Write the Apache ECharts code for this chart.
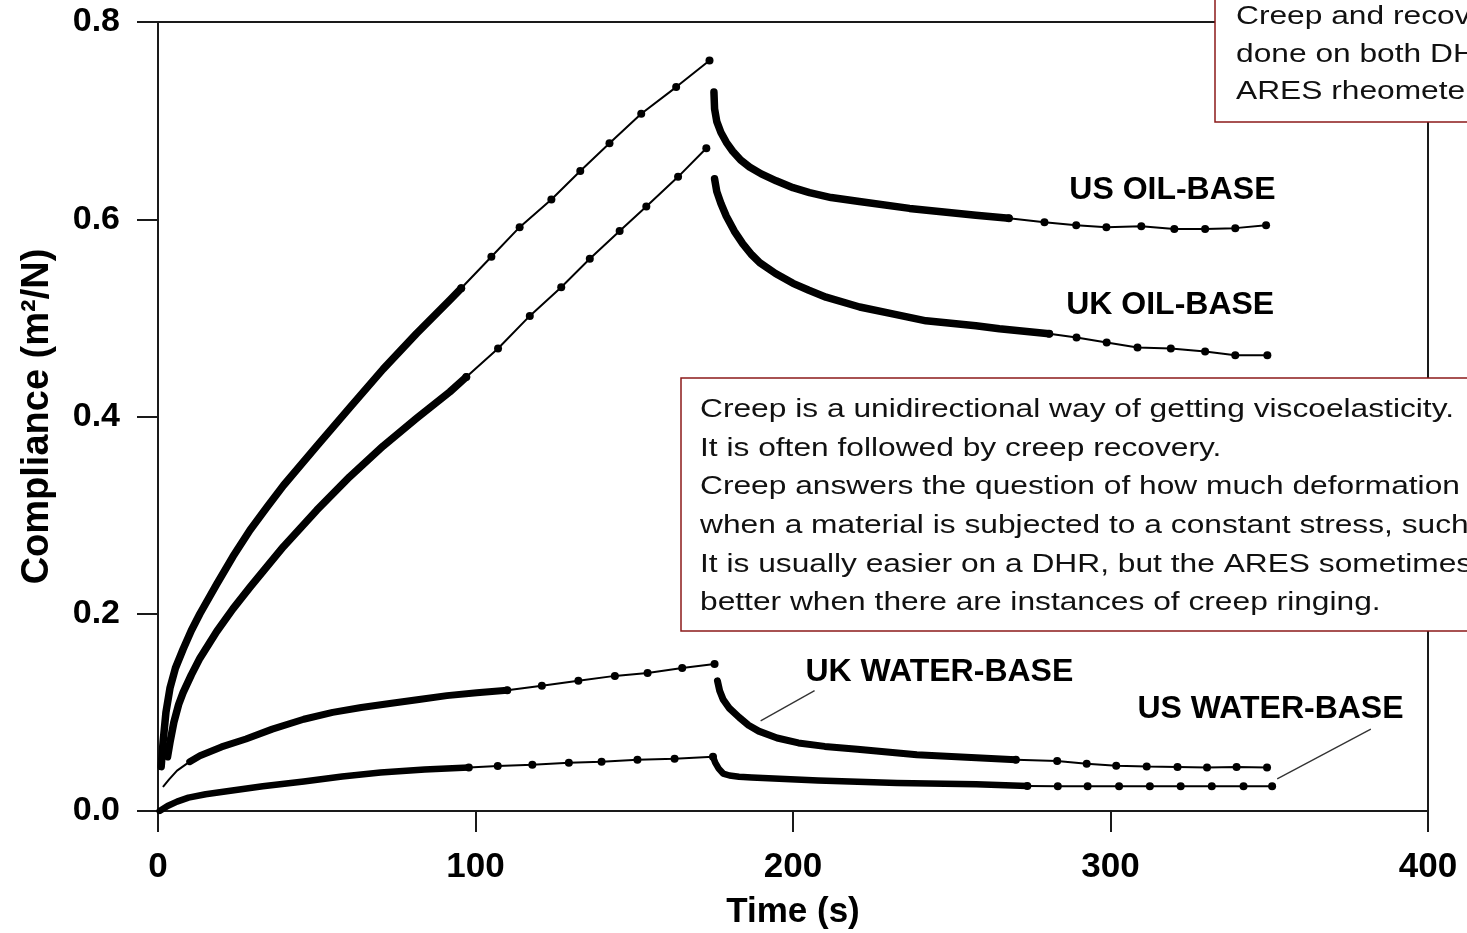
<!DOCTYPE html>
<html><head><meta charset="utf-8">
<script src="https://cdn.jsdelivr.net/npm/echarts@6/dist/echarts.min.js"></script>
<style>html,body{margin:0;padding:0;background:#fff;}#chart{width:1467px;height:933px;}</style>
</head><body><div id="chart"></div>
<script>
// ---- axis ticks ----
const xTicks = [0, 100, 200, 300, 400];
const yTicks = [0, 0.2, 0.4, 0.6, 0.8];

// ---- US OIL-BASE ----
const usOilCreepDense = [[1,0.045],[1.6,0.07],[2.5,0.1],[3.8,0.125],[5.5,0.145],[7.9,0.164],[10.5,0.183],[13.2,0.2],[18.5,0.23],[23.6,0.258],[29,0.285],[34.3,0.308],[39.5,0.33],[50,0.37],[60.4,0.409],[70.9,0.448],[81.4,0.484],[91.9,0.518],[95.5,0.530]];
const usOilCreepSparse = [[95.5,0.530],[105,0.562],[113.9,0.592],[123.9,0.620],[133,0.649],[142.2,0.677],[152.2,0.707],[163.2,0.734],[173.7,0.761]];
const usOilRecDense = [[175.1,0.729],[175.3,0.712],[176,0.699],[177.3,0.688],[179,0.678],[181,0.669],[183.5,0.660],[186.3,0.653],[190,0.646],[194.7,0.639],[200,0.632],[205.2,0.627],[212,0.622],[220.9,0.618],[236.7,0.611],[257.6,0.604],[268,0.601]];
const usOilRecSparse = [[268,0.601],[279.2,0.597],[289.2,0.594],[298.7,0.592],[309.7,0.593],[320.1,0.590],[329.8,0.590],[339.3,0.591],[349,0.594]];

// ---- UK OIL-BASE ----
const ukOilCreepDense = [[3,0.055],[3.8,0.07],[5,0.09],[6.5,0.108],[7.9,0.12],[10.5,0.138],[13.2,0.155],[18.5,0.182],[23.6,0.205],[29,0.227],[39.5,0.268],[50,0.305],[60.4,0.339],[70.9,0.37],[81.4,0.398],[91.9,0.425],[97.1,0.44]];
const ukOilCreepSparse = [[97.1,0.44],[107.1,0.469],[117.1,0.502],[127,0.531],[136,0.560],[145.4,0.588],[153.8,0.613],[163.8,0.643],[172.7,0.672]];
const ukOilRecDense = [[175.3,0.641],[176,0.628],[177.3,0.616],[179,0.603],[181.5,0.588],[184.2,0.575],[187,0.564],[189.5,0.556],[194.5,0.545],[200,0.535],[205,0.528],[210.4,0.521],[221,0.511],[231.4,0.504],[241.9,0.497],[257.6,0.492],[265,0.489],[280.7,0.484]];
const ukOilRecSparse = [[280.7,0.484],[289.3,0.480],[298.8,0.475],[308.5,0.470],[319,0.469],[329.8,0.466],[339.3,0.462],[349.4,0.462]];

// ---- UK WATER-BASE ----
const ukWaterCreepThin = [[1.7,0.025],[3.5,0.032],[6,0.041],[10,0.05]];
const ukWaterCreepDense = [[10,0.05],[13.2,0.056],[20,0.065],[27.7,0.073],[36,0.083],[45.9,0.093],[55,0.1],[64,0.105],[73,0.109],[82.2,0.113],[91,0.117],[100.4,0.120],[110,0.1225]];
const ukWaterCreepSparse = [[110,0.1225],[120.9,0.127],[132.4,0.132],[143.9,0.137],[154.2,0.140],[165.1,0.145],[175.3,0.149]];
const ukWaterRecDense = [[176.2,0.132],[176.9,0.122],[178,0.113],[180,0.104],[183,0.095],[186,0.087],[189.2,0.081],[195,0.074],[201.7,0.069],[210,0.0655],[220.3,0.0625],[239,0.057],[257.7,0.054],[270.2,0.052]];
const ukWaterRecSparse = [[270.2,0.052],[283.2,0.0508],[292.5,0.048],[301.8,0.046],[311.4,0.045],[321.1,0.0447],[330.4,0.044],[339.7,0.0447],[349.3,0.044]];

// ---- US WATER-BASE ----
const usWaterCreepDense = [[0.5,0.0],[3,0.005],[6,0.0095],[9.6,0.0135],[15,0.017],[21.7,0.020],[33,0.025],[45.9,0.030],[58,0.035],[70.1,0.039],[84,0.042],[97.9,0.044]];
const usWaterCreepSparse = [[97.9,0.044],[107,0.0457],[117.9,0.047],[129.4,0.049],[139.7,0.050],[151,0.052],[162.7,0.053],[174.8,0.055]];
const usWaterRecDense = [[174.8,0.055],[175.5,0.049],[176.6,0.043],[178,0.038],[180,0.036],[183,0.0348],[187,0.034],[207.9,0.031],[232.8,0.0285],[257.7,0.027],[273.8,0.0254]];
const usWaterRecSparse = [[273.8,0.0254],[283.4,0.025],[292.8,0.025],[302.7,0.025],[312.4,0.025],[322.1,0.025],[331.9,0.025],[341.9,0.025],[350.9,0.025]];

// ---- curve labels and leader lines (data coordinates) ----
const curveLabelTexts = ['US OIL-BASE', 'UK OIL-BASE', 'UK WATER-BASE', 'US WATER-BASE'];
const curveLabelAt = [[319.5, 0.629], [318.8, 0.513], [246.1, 0.141], [350.4, 0.1036]];
const ukWaterLeader = [[189.8, 0.0914], [206.8, 0.122]];
const usWaterLeader = [[352.5, 0.0325], [382, 0.083]];

// ---- annotation texts ----
const noteTopLines = ['Creep and recovery tests can be', 'done on both DHR and', 'ARES rheometers.'];
const noteMainLines = [
  'Creep is a unidirectional way of getting viscoelasticity.',
  'It is often followed by creep recovery.',
  'Creep answers the question of how much deformation occurs',
  'when a material is subjected to a constant stress, such as gravity.',
  'It is usually easier on a DHR, but the ARES sometimes works',
  'better when there are instances of creep ringing.'
];

const FONT = '"Liberation Sans", Arial, sans-serif';
const INK = '#000';
const BOX = '#8c1a1a';

function dense(data, w) {
  return {type: 'line', data: data, smooth: false, symbol: 'none',
    lineStyle: {color: '#000', width: w, cap: 'round', join: 'round'}, silent: true, animation: false, z: 3};
}
function sparse(data) {
  return {type: 'line', data: data, symbol: 'circle', symbolSize: 8, showSymbol: true,
    itemStyle: {color: '#000'}, lineStyle: {color: '#000', width: 2}, silent: true, animation: false, z: 3};
}
function leader(data) {
  return {type: 'line', data: data, symbol: 'none', lineStyle: {color: '#333', width: 1.3}, silent: true, animation: false, z: 2};
}

const series = [
  dense(usOilCreepDense, 7.5), sparse(usOilCreepSparse), dense(usOilRecDense, 7.5), sparse(usOilRecSparse),
  dense(ukOilCreepDense, 7.5), sparse(ukOilCreepSparse), dense(ukOilRecDense, 7.5), sparse(ukOilRecSparse),
  dense(ukWaterCreepThin, 2), dense(ukWaterCreepDense, 7), sparse(ukWaterCreepSparse), dense(ukWaterRecDense, 7), sparse(ukWaterRecSparse),
  dense(usWaterCreepDense, 6.5), sparse(usWaterCreepSparse), dense(usWaterRecDense, 6.5), sparse(usWaterRecSparse),
  leader(ukWaterLeader), leader(usWaterLeader)
];

function textLines(lines, x0, y0, step) {
  return lines.map(function (t, i) {
    return {type: 'text', x: x0, y: y0 + i * step, scaleX: 1.22, z: 101,
      style: {text: t, x: 0, y: 0, fill: '#111', fontFamily: FONT, fontSize: 26, verticalAlign: 'middle', align: 'left'}};
  });
}

const boxes = [
  {type: 'rect', z: 100, shape: {x: 681, y: 378, width: 900, height: 253},
    style: {fill: '#fff', stroke: BOX, lineWidth: 1.5}},
  {type: 'rect', z: 100, shape: {x: 1215, y: -10, width: 400, height: 132},
    style: {fill: '#fff', stroke: BOX, lineWidth: 1.5}}
].concat(textLines(noteMainLines, 700, 410, 38.6)).concat(textLines(noteTopLines, 1236, 17, 37.5));

const chart = echarts.init(document.getElementById('chart'), null, {renderer: 'canvas'});
chart.setOption({
  backgroundColor: '#fff',
  animation: false,
  grid: {left: 158, right: 39, top: 22, bottom: 122, containLabel: false, outerBoundsMode: 'none',
    show: true, borderColor: '#1a1a1a', borderWidth: 2, backgroundColor: 'transparent'},
  xAxis: {
    type: 'value', min: xTicks[0], max: xTicks[xTicks.length - 1], interval: 100,
    name: 'Time (s)', nameLocation: 'middle', nameGap: 84,
    nameTextStyle: {fontFamily: FONT, fontWeight: 'bold', fontSize: 35, color: INK},
    axisLine: {show: true, lineStyle: {color: '#1a1a1a', width: 2}},
    axisTick: {show: true, inside: false, length: 21, lineStyle: {color: '#1a1a1a', width: 2}},
    axisLabel: {margin: 39, fontFamily: FONT, fontWeight: 'bold', fontSize: 35, color: INK,
      formatter: function (v) { return xTicks.indexOf(v) >= 0 ? String(v) : ''; }},
    splitLine: {show: false}
  },
  yAxis: {
    type: 'value', min: yTicks[0], max: yTicks[yTicks.length - 1], interval: 0.2,
    name: 'Compliance (m²/N)', nameLocation: 'middle', nameGap: 101, nameRotate: 90,
    nameTextStyle: {fontFamily: FONT, fontWeight: 'bold', fontSize: 38, color: INK},
    axisLine: {show: true, lineStyle: {color: '#1a1a1a', width: 2}},
    axisTick: {show: true, inside: false, length: 21, lineStyle: {color: '#1a1a1a', width: 2}},
    axisLabel: {margin: 38, fontFamily: FONT, fontWeight: 'bold', fontSize: 34, color: INK,
      formatter: function (v) { return v.toFixed(1); }},
    splitLine: {show: false}
  },
  series: series,
  graphic: boxes
});

// curve labels positioned through the axes' scales
const labelGraphics = curveLabelTexts.map(function (t, i) {
  const p = chart.convertToPixel({gridIndex: 0}, curveLabelAt[i]);
  return {type: 'text', x: p[0], y: p[1], z: 50,
    style: {text: t, fill: INK, fontFamily: FONT, fontWeight: 'bold', fontSize: 32, align: 'center', verticalAlign: 'middle'}};
});
chart.setOption({graphic: boxes.concat(labelGraphics)});
</script></body></html>
